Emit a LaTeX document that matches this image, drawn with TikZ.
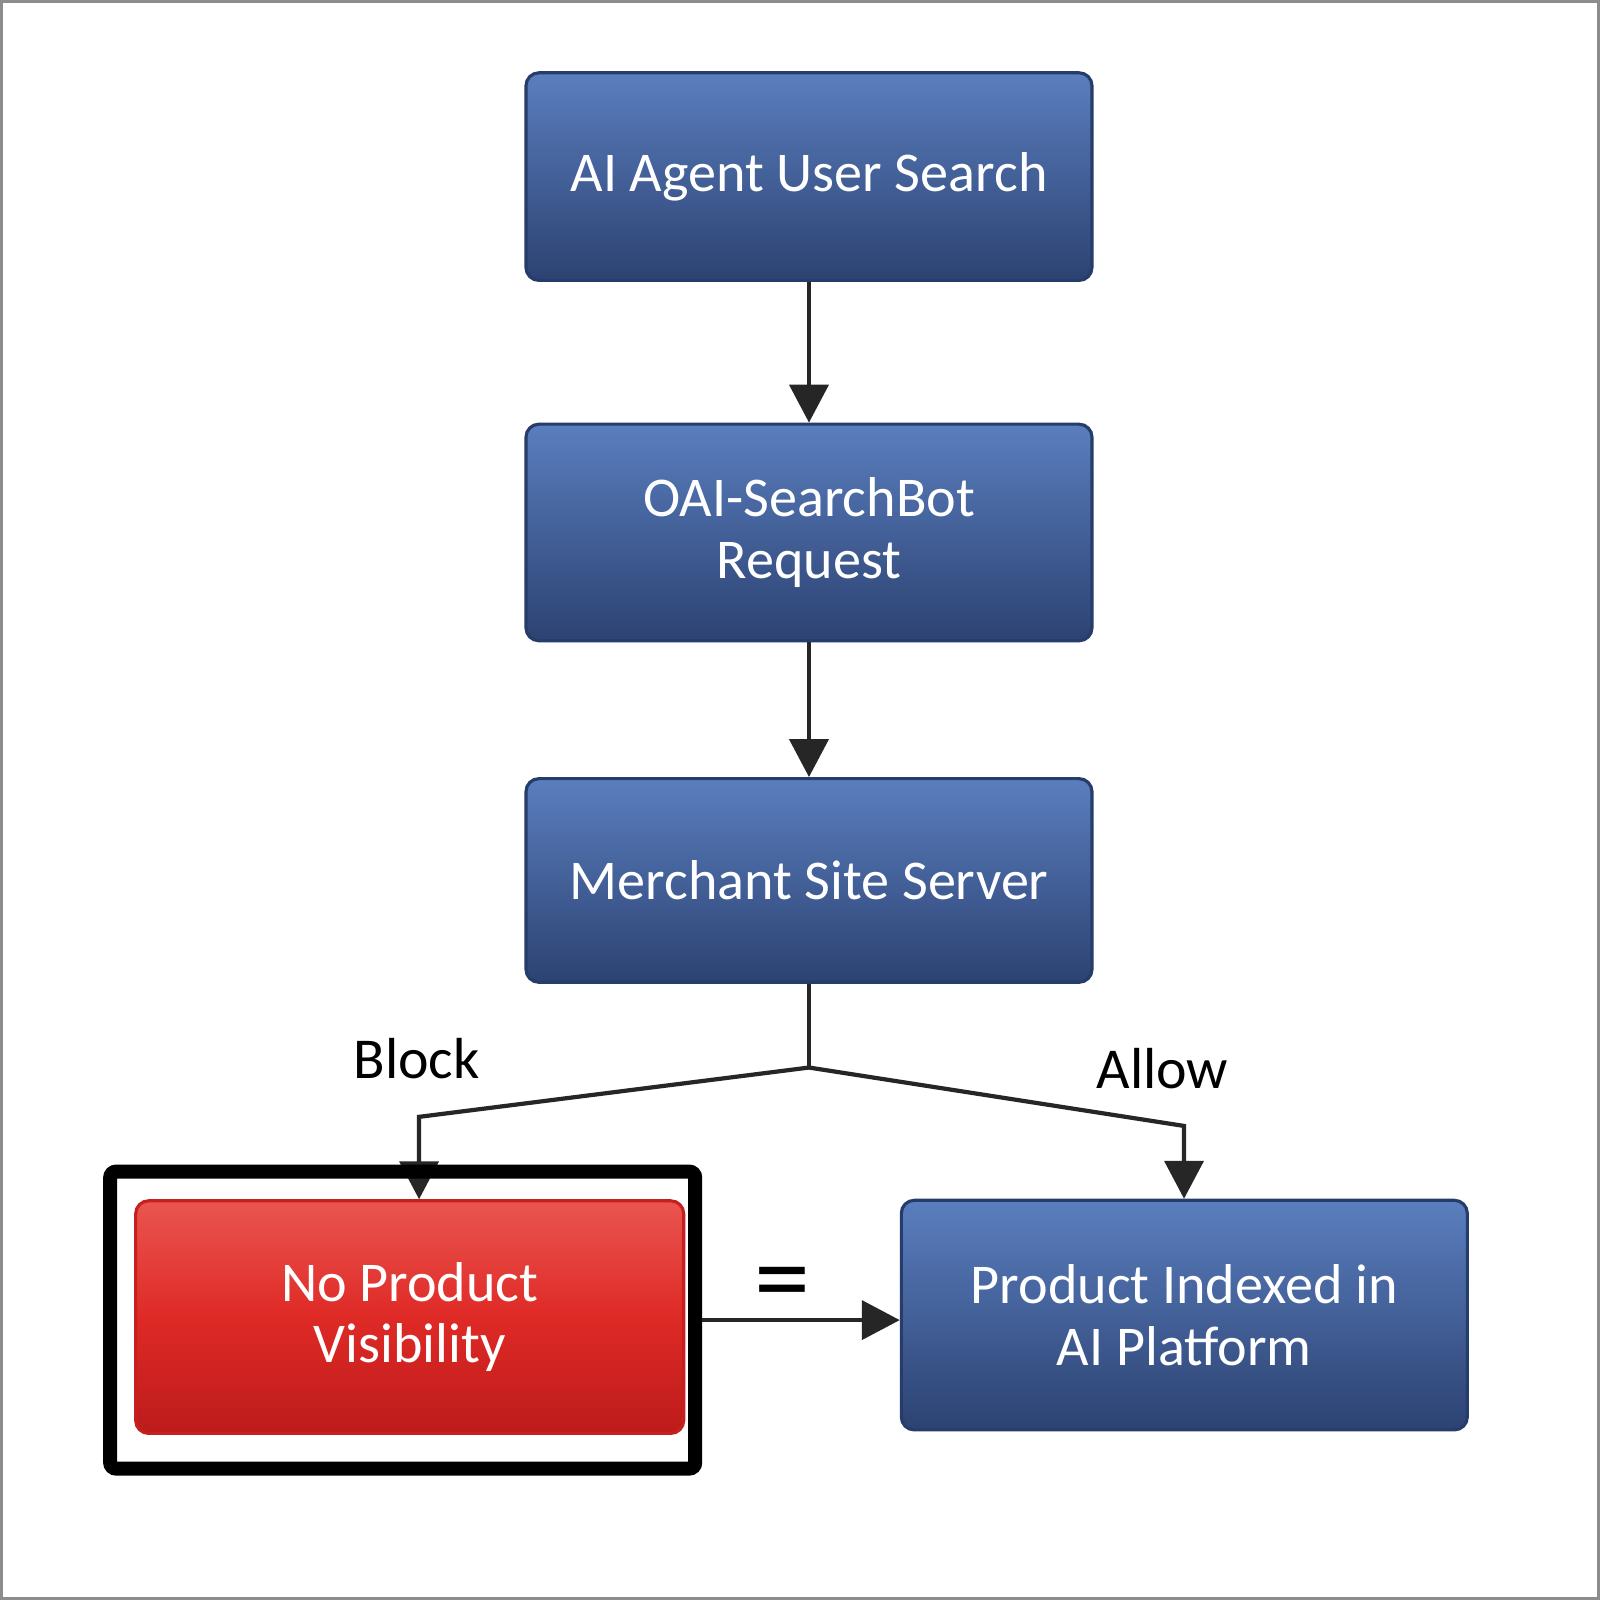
\documentclass[tikz,border=0pt]{standalone}
\usepackage{fontspec}
\setmainfont{Carlito}
\usetikzlibrary{arrows.meta}

\definecolor{bleuhaut}{HTML}{5A7EBE}
\definecolor{bleubas}{HTML}{2C4272}
\definecolor{bleubord}{HTML}{263C6A}
\definecolor{rougehaut}{HTML}{EA5550}
\definecolor{rougemil}{HTML}{DF2A26}
\definecolor{rougebas}{HTML}{BC1B1B}
\definecolor{rougebord}{HTML}{C42020}

\begin{document}
\begin{tikzpicture}[
    boite/.style={draw=bleubord, line width=0.9pt, rounded corners=1.3mm,
      top color=bleuhaut, bottom color=bleubas, text=white, align=center,
      minimum width=5.67cm, font=\fontsize{16}{17.6}\selectfont},
    boiterouge/.style={boite, draw=rougebord, top color=rougehaut,
      bottom color=rougebas, middle color=rougemil},
    fleche/.style={-{Triangle[length=3.8mm,width=3.9mm]}, line width=1.2pt, draw=black!85},
    trait/.style={line width=1.2pt, draw=black!85},
    etiquette/.style={font=\fontsize{16.5}{18}\selectfont}
  ]
  % Fond et bord
  \fill[white] (0,0) rectangle (16,-16);
  \draw[black!45, line width=0.8pt] (0,0) rectangle (16,-16);

  % Les boites
  \node[boite, minimum height=2.08cm] (recherche) at (8.09,-1.755) {AI Agent User Search};
  \node[boite, minimum height=2.17cm] (bot) at (8.09,-5.32) {OAI-SearchBot\\Request};
  \node[boite, minimum height=2.04cm] (serveur) at (8.09,-8.806) {Merchant Site Server};
  \node[boiterouge, minimum width=5.49cm, minimum height=2.33cm] (invisible) at (4.09,-13.18) {No Product\\Visibility};
  \node[boite, minimum height=2.30cm] (indexe) at (11.85,-13.16) {Product Indexed in\\AI Platform};

  % Les fleches
  \draw[fleche] (recherche) -- (bot);
  \draw[fleche] (bot) -- (serveur);
  \coordinate (fourche) at (8.09,-10.68);
  \draw[trait] (serveur) -- (fourche);
  \draw[fleche] (fourche) -- (4.184,-11.174) -- (invisible.north -| 4.184,0);
  \draw[fleche] (fourche) -- (11.847,-11.265) -- (indexe.north -| 11.847,0);
  \node[etiquette] (bloque) at (4.16,-10.59) {Block};
  \node[etiquette] (autorise) at (11.63,-10.69) {Allow};

  % Cadre noir autour de la boite rouge
  \node[draw=black, line width=4pt, rounded corners=0.6mm, minimum width=5.86cm,
    minimum height=2.975cm] (cadre) at (4.02,-13.21) {};
  \draw[fleche] (cadre.east) -- (cadre.east -| indexe.west);
  \node[font=\fontsize{32}{32}\selectfont] (egal) at (7.82,-12.92) {=};
\end{tikzpicture}
\end{document}
